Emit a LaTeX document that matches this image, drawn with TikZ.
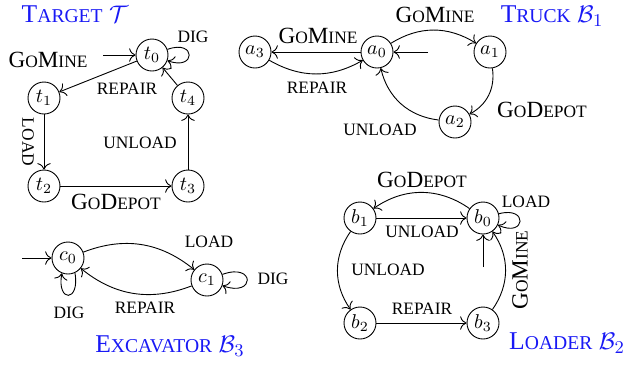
\documentclass[tikz,border=0pt]{standalone}
\usepackage{fontspec}
\setmainfont{Liberation Serif}
\usetikzlibrary{arrows.meta}
\definecolor{tblue}{RGB}{25,25,245}
\newcommand\sm[1]{{\fontsize{8.7}{9}\selectfont #1}}
\newcommand\tsm[1]{{\fontsize{9.8}{10}\selectfont #1}}
\begin{document}
\begin{tikzpicture}[x=0.5pt,y=-0.5pt,
  st/.style={circle,draw,minimum size=16pt,inner sep=0pt},
  lab/.style={inner sep=0pt,font=\fontsize{11.6}{12}\selectfont},
  ttl/.style={text=tblue,inner sep=0pt,font=\fontsize{12.8}{13}\selectfont},
  >={To[length=3.2pt]}, line width=0.45pt]
\useasboundingbox (0,0) rectangle (627,366);
% ---------- Target
\node[ttl] (ttlT) at (75,14) {T\tsm{ARGET} $\mathcal{T}$};
\node[st] (t0) at (152,55) {$t_0$};
\node[st] (t1) at (44,98) {$t_1$};
\node[st] (t2) at (44,186) {$t_2$};
\node[st] (t3) at (188,186) {$t_3$};
\node[st] (t4) at (188,98) {$t_4$};
\coordinate (t0i) at (103,55);
\draw[->] (t0i) -- (t0);
\draw[->] (t0) -- (t1);
\draw[->] (t1) -- (t2);
\draw[->] (t2) -- (t3);
\draw[->] (t3) -- (t4);
\draw[->] (t4) -- (t0);
\draw[->] (t0) to[out=20,in=-20,looseness=7] (t0);
\node[lab] (lT1) at (48,60) {G\sm{O}M\sm{INE}};
\node[lab] (lT2) at (193,37) {\sm{DIG}};
\node[lab] (lT3) at (127,89) {\sm{REPAIR}};
\node[lab,rotate=-90] (lT4) at (28,142) {\sm{LOAD}};
\node[lab] (lT5) at (140,143) {\sm{UNLOAD}};
\node[lab] (lT6) at (116,202) {G\sm{O}D\sm{EPOT}};
% ---------- Truck
\node[ttl] (ttlB1) at (552,16) {T\tsm{RUCK} $\mathcal{B}_1$};
\node[st] (a3) at (255,52) {$a_3$};
\node[st] (a0) at (377,52) {$a_0$};
\node[st] (a1) at (490,52) {$a_1$};
\node[st] (a2) at (455,122) {$a_2$};
\coordinate (a0i) at (428,52);
\draw[->] (a0i) -- (a0);
\draw[->] (a0) -- (a3);
\draw[->] (a3) to[bend right=30] (a0);
\draw[->] (a0) to[bend left=32] (a1);
\draw[->] (a1) to[bend left=35] (a2);
\draw[->] (a2) to[bend left=35] (a0);
\node[lab] (lA1) at (318,36) {G\sm{O}M\sm{INE}};
\node[lab] (lA2) at (317,88) {\sm{REPAIR}};
\node[lab] (lA3) at (435,15) {G\sm{O}M\sm{INE}};
\node[lab] (lA4) at (542,110) {G\sm{O}D\sm{EPOT}};
\node[lab] (lA5) at (380,130) {\sm{UNLOAD}};
% ---------- Loader
\node[ttl] (ttlB2) at (567,343) {L\tsm{OADER} $\mathcal{B}_2$};
\node[st] (b1) at (360,218) {$b_1$};
\node[st] (b0) at (483,218) {$b_0$};
\node[st] (b2) at (360,323) {$b_2$};
\node[st] (b3) at (483,323) {$b_3$};
\coordinate (b0i) at (483,267);
\draw[->] (b0i) -- (b0);
\draw[->] (b0) to[bend right=35] (b1);
\draw[->] (b1) -- (b0);
\draw[->] (b1) to[bend right=35] (b2);
\draw[->] (b2) -- (b3);
\draw[->] (b3) to[bend right=35] (b0);
\draw[->] (b0) to[out=15,in=-25,looseness=7] (b0);
\node[lab] (lB1) at (422,180) {G\sm{O}D\sm{EPOT}};
\node[lab] (lB2) at (422,232) {\sm{UNLOAD}};
\node[lab] (lB3) at (526,202) {\sm{LOAD}};
\node[lab] (lB4) at (388,270) {\sm{UNLOAD}};
\node[lab] (lB5) at (422,309) {\sm{REPAIR}};
\node[lab,rotate=90] (lB6) at (520,270) {G\sm{O}M\sm{INE}};
% ---------- Excavator
\node[ttl] (ttlB3) at (170,346) {E\tsm{XCAVATOR} $\mathcal{B}_3$};
\node[st] (c0) at (68,258) {$c_0$};
\node[st] (c1) at (207,280) {$c_1$};
\coordinate (c0i) at (22,258);
\draw[->] (c0i) -- (c0);
\draw[->] (c0) to[bend left=30] (c1);
\draw[->] (c1) to[bend left=30] (c0);
\draw[->] (c1) to[out=20,in=-20,looseness=8] (c1);
\draw[->] (c0.-65) .. controls +(80:30) and +(100:30) .. (c0.-112);
\node[lab] (lC1) at (209,242) {\sm{LOAD}};
\node[lab] (lC2) at (145,308) {\sm{REPAIR}};
\node[lab] (lC3) at (273,279) {\sm{DIG}};
\node[lab] (lC4) at (69,313) {\sm{DIG}};
\end{tikzpicture}
\end{document}
